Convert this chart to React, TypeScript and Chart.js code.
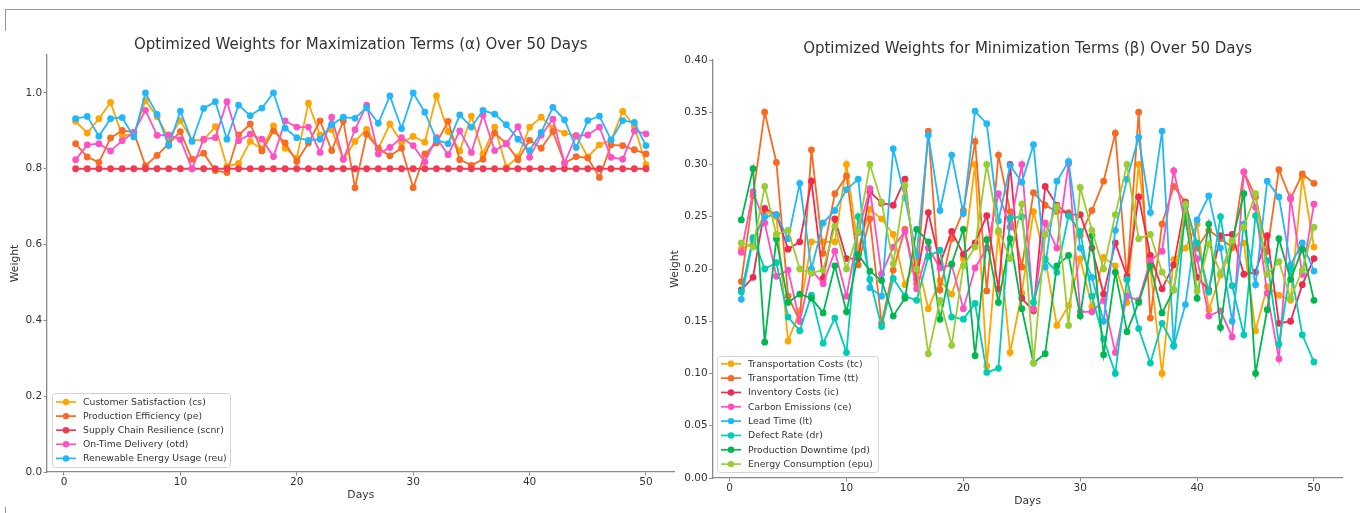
import React, { useEffect, useRef } from "react";
import { Chart, registerables } from "chart.js";

Chart.register(...registerables);

// ---------- data ----------
const days = [1,2,3,4,5,6,7,8,9,10,11,12,13,14,15,16,17,18,19,20,21,22,23,24,25,26,27,28,29,30,31,32,33,34,35,36,37,38,39,40,41,42,43,44,45,46,47,48,49,50];

const maxLabels = [
  "Customer Satisfaction (cs)",
  "Production Efficiency (pe)",
  "Supply Chain Resilience (scnr)",
  "On-Time Delivery (otd)",
  "Renewable Energy Usage (reu)",
];
const maxColors = ["#FFA500", "#F96A22", "#F23A52", "#FF52C2", "#20B8FA"];

const cs = [0.925,0.894,0.932,0.975,0.888,0.890,0.980,0.937,0.881,0.927,
  0.875,0.876,0.911,0.806,0.814,0.872,0.852,0.913,0.854,0.828,
  0.973,0.889,0.903,0.825,0.872,0.904,0.853,0.918,0.869,0.885,
  0.870,0.992,0.898,0.847,0.939,0.839,0.910,0.804,0.831,0.910,
  0.936,0.907,0.894,0.887,0.831,0.863,0.875,0.951,0.913,0.811];
const pe = [0.866,0.831,0.817,0.881,0.901,0.896,0.808,0.835,0.866,0.898,
  0.825,0.841,0.795,0.790,0.889,0.918,0.847,0.900,0.868,0.819,
  0.868,0.926,0.848,0.926,0.750,0.891,0.854,0.834,0.854,0.750,
  0.839,0.868,0.925,0.824,0.809,0.825,0.894,0.866,0.824,0.875,
  0.854,0.898,0.815,0.832,0.828,0.777,0.863,0.861,0.850,0.839];
const scnr = [0.8,0.8,0.8,0.8,0.8,0.8,0.8,0.8,0.8,0.8,
  0.8,0.8,0.8,0.8,0.8,0.8,0.8,0.8,0.8,0.8,
  0.8,0.8,0.8,0.8,0.8,0.8,0.8,0.8,0.8,0.8,
  0.8,0.8,0.8,0.8,0.8,0.8,0.8,0.8,0.8,0.8,
  0.8,0.8,0.8,0.8,0.8,0.8,0.8,0.8,0.8,0.8];
const otd = [0.824,0.863,0.866,0.847,0.874,0.896,0.954,0.888,0.889,0.877,
  0.800,0.878,0.882,0.977,0.874,0.891,0.878,0.832,0.926,0.910,
  0.910,0.843,0.936,0.825,0.903,0.968,0.839,0.856,0.882,0.861,
  0.818,0.882,0.837,0.900,0.843,0.942,0.848,0.866,0.911,0.830,
  0.888,0.931,0.815,0.887,0.889,0.910,0.830,0.825,0.900,0.892];
const reu = [0.932,0.938,0.886,0.932,0.935,0.884,1.000,0.943,0.861,0.952,
  0.872,0.959,0.977,0.878,0.968,0.940,0.960,1.000,0.907,0.882,
  0.875,0.878,0.916,0.936,0.933,0.961,0.920,0.992,0.906,1.000,
  0.949,0.876,0.866,0.942,0.910,0.954,0.944,0.916,0.878,0.848,
  0.896,0.962,0.929,0.856,0.927,0.939,0.876,0.927,0.922,0.861];

const minLabels = [
  "Transportation Costs (tc)",
  "Transportation Time (tt)",
  "Inventory Costs (ic)",
  "Carbon Emissions (ce)",
  "Lead Time (lt)",
  "Defect Rate (dr)",
  "Production Downtime (pd)",
  "Energy Consumption (epu)",
];
const minColors = ["#FFA500", "#F96A20", "#F2294F", "#FF4FC2", "#22B8F8", "#00CDB5", "#00B84F", "#9ACD32"];

const tc = [0.219,0.225,0.255,0.250,0.131,0.160,0.226,0.226,0.226,0.300,
  0.220,0.257,0.248,0.233,0.185,0.210,0.162,0.189,0.176,0.210,
  0.300,0.107,0.235,0.120,0.177,0.255,0.210,0.146,0.165,0.210,
  0.164,0.211,0.203,0.168,0.300,0.200,0.100,0.209,0.220,0.243,
  0.161,0.194,0.220,0.225,0.141,0.183,0.175,0.170,0.288,0.221];
const tt = [0.188,0.270,0.350,0.302,0.174,0.150,0.314,0.215,0.272,0.289,
  0.204,0.248,0.148,0.199,0.238,0.186,0.332,0.180,0.229,0.256,
  0.322,0.179,0.309,0.255,0.202,0.273,0.261,0.255,0.254,0.232,
  0.256,0.284,0.330,0.190,0.350,0.153,0.243,0.279,0.264,0.220,
  0.237,0.229,0.221,0.293,0.269,0.217,0.295,0.267,0.291,0.282];
const ic = [0.180,0.192,0.258,0.252,0.219,0.226,0.284,0.191,0.248,0.210,
  0.210,0.274,0.263,0.261,0.286,0.190,0.254,0.205,0.236,0.214,
  0.225,0.251,0.181,0.300,0.172,0.160,0.279,0.261,0.252,0.252,
  0.220,0.176,0.225,0.193,0.269,0.213,0.181,0.204,0.264,0.192,
  0.180,0.232,0.233,0.195,0.197,0.232,0.148,0.150,0.185,0.210];
const ce = [0.216,0.274,0.244,0.193,0.199,0.150,0.199,0.186,0.217,0.174,
  0.235,0.277,0.195,0.221,0.236,0.181,0.220,0.201,0.204,0.162,
  0.201,0.220,0.272,0.240,0.300,0.162,0.244,0.220,0.301,0.159,
  0.159,0.170,0.120,0.174,0.170,0.208,0.217,0.294,0.244,0.210,
  0.155,0.160,0.135,0.293,0.259,0.177,0.114,0.268,0.195,0.262];
const lt = [0.171,0.228,0.250,0.252,0.229,0.282,0.200,0.244,0.256,0.276,
  0.286,0.182,0.174,0.315,0.268,0.213,0.328,0.256,0.309,0.253,
  0.351,0.339,0.246,0.299,0.283,0.319,0.202,0.284,0.303,0.220,
  0.192,0.150,0.237,0.286,0.326,0.254,0.332,0.126,0.166,0.247,
  0.270,0.220,0.150,0.243,0.185,0.284,0.269,0.204,0.225,0.198];
const dr = [0.178,0.230,0.200,0.206,0.154,0.141,0.175,0.129,0.153,0.120,
  0.250,0.190,0.145,0.191,0.174,0.170,0.212,0.218,0.154,0.152,
  0.167,0.101,0.105,0.249,0.250,0.168,0.209,0.197,0.251,0.236,
  0.174,0.133,0.100,0.190,0.143,0.110,0.148,0.127,0.260,0.225,
  0.178,0.250,0.184,0.137,0.251,0.208,0.128,0.200,0.137,0.111];
const pd = [0.247,0.296,0.130,0.229,0.168,0.176,0.172,0.158,0.203,0.159,
  0.214,0.198,0.189,0.155,0.172,0.238,0.226,0.152,0.205,0.238,
  0.117,0.228,0.168,0.229,0.162,0.110,0.119,0.203,0.213,0.155,
  0.232,0.118,0.197,0.140,0.168,0.203,0.158,0.180,0.251,0.172,
  0.243,0.144,0.227,0.272,0.100,0.161,0.229,0.190,0.219,0.170];
const epu = [0.225,0.221,0.279,0.233,0.237,0.200,0.196,0.199,0.241,0.200,
  0.236,0.300,0.264,0.205,0.280,0.200,0.119,0.170,0.127,0.203,
  0.221,0.300,0.237,0.210,0.262,0.110,0.233,0.260,0.146,0.278,
  0.237,0.200,0.252,0.300,0.229,0.233,0.197,0.180,0.262,0.179,
  0.224,0.196,0.227,0.240,0.272,0.195,0.207,0.172,0.199,0.240];

const maxSeries = [cs, pe, scnr, otd, reu];
const minSeries = [tc, tt, ic, ce, lt, dr, pd, epu];

// ---------- styling ----------
const FONT = "'DejaVu Sans', 'Liberation Sans', sans-serif";
const TEXT = "#333333";
const AXIS = "#8a8a8a";

const boxLegend = {
  id: "boxLegend",
  afterDraw(chart: any, _args: any, opts: any) {
    const ctx = chart.ctx;
    const { x, y, w, h, row0, gap } = opts;
    ctx.save();
    ctx.beginPath();
    if (ctx.roundRect) ctx.roundRect(x + 0.5, y + 0.5, w, h, 3);
    else ctx.rect(x + 0.5, y + 0.5, w, h);
    ctx.fillStyle = "rgba(255,255,255,0.85)";
    ctx.fill();
    ctx.strokeStyle = "#d4d4d4";
    ctx.lineWidth = 1;
    ctx.stroke();
    ctx.font = `9.3px ${FONT}`;
    ctx.textBaseline = "middle";
    ctx.textAlign = "left";
    chart.data.datasets.forEach((ds: any, i: number) => {
      const cy = row0 + i * gap;
      ctx.strokeStyle = ds.borderColor;
      ctx.lineWidth = 1.7;
      ctx.beginPath();
      ctx.moveTo(x + 4, cy);
      ctx.lineTo(x + 24, cy);
      ctx.stroke();
      ctx.fillStyle = ds.borderColor;
      ctx.beginPath();
      ctx.arc(x + 14, cy, 3.2, 0, Math.PI * 2);
      ctx.fill();
      ctx.fillStyle = TEXT;
      ctx.fillText(ds.label, x + 31, cy + 0.5);
    });
    ctx.restore();
  },
};

function buildConfig(p: {
  series: number[][];
  labels: string[];
  colors: string[];
  title: string;
  titleTop: number;
  titleBottom: number;
  yMax: number;
  yStep: number;
  yDigits: number;
  yAxisWidth: number;
  xAxisHeight: number;
  rightPad: number;
  yTitlePad: number;
  xTitlePad: number;
  legend: any;
}) {
  const n = p.series.length;
  const tickFont = { family: FONT, size: 10.5 };
  return {
    type: "line" as const,
    data: {
      datasets: p.series.map((vals, i) => ({
        label: p.labels[i],
        data: days.map((d, j) => ({ x: d, y: vals[j] })),
        borderColor: p.colors[i],
        backgroundColor: p.colors[i],
        borderWidth: 1.8,
        pointRadius: 3.4,
        pointHoverRadius: 3.4,
        pointBorderWidth: 0,
        tension: 0,
        order: n - i,
      })),
    },
    options: {
      animation: false,
      responsive: false,
      maintainAspectRatio: false,
      events: [],
      layout: { padding: { left: 0, right: p.rightPad, top: 0, bottom: 0 } },
      plugins: {
        legend: { display: false },
        tooltip: { enabled: false },
        title: {
          display: true,
          fullSize: false,
          text: p.title,
          color: TEXT,
          font: { family: FONT, size: 15, weight: "normal" as const },
          padding: { top: p.titleTop, bottom: p.titleBottom },
        },
        boxLegend: p.legend,
      },
      scales: {
        x: {
          type: "linear" as const,
          min: -1.45,
          max: 52.45,
          ticks: {
            stepSize: 10,
            includeBounds: false,
            color: TEXT,
            font: tickFont,
            padding: 0,
            maxRotation: 0,
            callback: (v: any) => String(v),
          },
          grid: { drawOnChartArea: false, drawTicks: true, tickLength: 3.5, color: AXIS, tickWidth: 1 },
          border: { display: true, color: AXIS, width: 1.3 },
          title: {
            display: true,
            text: "Days",
            color: TEXT,
            font: { family: FONT, size: 10.8 },
            padding: { top: 0, bottom: p.xTitlePad },
          },
          afterFit: (s: any) => {
            s.height = p.xAxisHeight;
          },
        },
        y: {
          type: "linear" as const,
          min: 0,
          max: p.yMax,
          ticks: {
            stepSize: p.yStep,
            includeBounds: false,
            color: TEXT,
            font: tickFont,
            padding: 1.5,
            callback: (v: any) => Number(v).toFixed(p.yDigits),
          },
          grid: { drawOnChartArea: false, drawTicks: true, tickLength: 3.5, color: AXIS, tickWidth: 1 },
          border: { display: true, color: AXIS, width: 1.3 },
          title: {
            display: true,
            text: "Weight",
            color: TEXT,
            font: { family: FONT, size: 10.8 },
            padding: { top: p.yTitlePad, bottom: 0 },
          },
          afterFit: (s: any) => {
            s.width = p.yAxisWidth;
          },
        },
      },
    },
    plugins: [boxLegend],
  };
}

function ChartBox({ config, left, width }: { config: any; left: number; width: number }) {
  const ref = useRef<HTMLCanvasElement | null>(null);
  useEffect(() => {
    if (!ref.current) return;
    const chart = new Chart(ref.current, config);
    return () => chart.destroy();
  }, [config]);
  return (
    <canvas
      ref={ref}
      width={width}
      height={513}
      style={{ position: "absolute", left, top: 0, width, height: 513 }}
    />
  );
}

const leftConfig = buildConfig({
  series: maxSeries,
  labels: maxLabels,
  colors: maxColors,
  title: "Optimized Weights for Maximization Terms (α) Over 50 Days",
  titleTop: 36,
  titleBottom: 1,
  yMax: 1.1,
  yStep: 0.2,
  yDigits: 1,
  yAxisWidth: 47.1,
  xAxisHeight: 41,
  rightPad: 5.5,
  yTitlePad: 8.5,
  xTitlePad: 11,
  legend: { x: 52, y: 393, w: 178, h: 74, row0: 402, gap: 14.1 },
});

const rightConfig = buildConfig({
  series: minSeries,
  labels: minLabels,
  colors: minColors,
  title: "Optimized Weights for Minimization Terms (β) Over 50 Days",
  titleTop: 40,
  titleBottom: 2,
  yMax: 0.4,
  yStep: 0.05,
  yDigits: 2,
  yAxisWidth: 47.7,
  xAxisHeight: 35,
  rightPad: 17.4,
  yTitlePad: 3.5,
  xTitlePad: 5.5,
  legend: { x: 52, y: 356, w: 161, h: 116, row0: 363.8, gap: 14.33 },
});

export default function App() {
  return (
    <div style={{ position: "fixed", left: 0, top: 0, width: 1360, height: 513, background: "#fff", overflow: "hidden" }}>
      <div style={{ position: "absolute", left: 5, top: 9, width: 1355, height: 1, background: "#9a9a9a" }} />
      <div style={{ position: "absolute", left: 5, top: 9, width: 1, height: 22, background: "#9a9a9a" }} />
      <div style={{ position: "absolute", left: 5, top: 507, width: 1, height: 6, background: "#9a9a9a" }} />
      <ChartBox config={leftConfig} left={0} width={680} />
      <ChartBox config={rightConfig} left={665} width={695} />
    </div>
  );
}
